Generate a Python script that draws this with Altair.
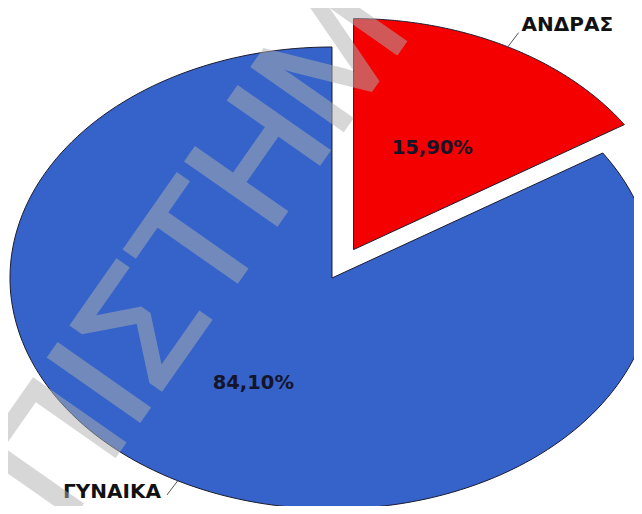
import altair as alt
import pandas as pd

# ---- data ----
categories = ["ΑΝΔΡΑΣ", "ΓΥΝΑΙΚΑ"]
percentages = [15.90, 84.10]
value_labels = ["15,90%", "84,10%"]
watermark = ["ΠΙΣΤΗΜ"]

# ---- styles / layout ----
slice_colors = ["#F40000", "#3563C9"]
EXPLODE = 0.14      # radial offset of the first slice (in radius units)
N = 180             # arc resolution per slice
W, H = 626, 498
x_dom = [-1.0062, 0.9379]
y_dom = [-0.987, 1.1688]

df = pd.DataFrame({
    "category": categories,
    "pct": percentages,
    "label": value_labels,
    "k": list(range(len(categories))),
})

xs = alt.Scale(domain=x_dom, nice=False, zero=False)
ys = alt.Scale(domain=y_dom, nice=False, zero=False)

base = (
    alt.Chart(df)
    .transform_joinaggregate(total="sum(pct)")
    .transform_window(cum="sum(pct)", sort=[alt.SortField("k")], frame=[None, 0])
    .transform_calculate(
        a1="2*PI*datum.cum/datum.total",
        a0="2*PI*(datum.cum-datum.pct)/datum.total",
    )
    .transform_calculate(
        mid="(datum.a0+datum.a1)/2",
        off=f"datum.k == 0 ? {EXPLODE} : 0",
    )
    .transform_calculate(
        cx="datum.off*sin(datum.mid)",
        cy="datum.off*cos(datum.mid)",
    )
)

slices = (
    base.transform_calculate(steps=f"sequence(-1, {N + 2})")
    .transform_flatten(["steps"], as_=["s"])
    .transform_calculate(
        t=f"clamp(datum.s, 0, {N})/{N}",
        r=f"(datum.s < 0 || datum.s > {N}) ? 0 : 1",
    )
    .transform_calculate(th="datum.a0 + (datum.a1-datum.a0)*datum.t")
    .transform_calculate(
        px="datum.cx + datum.r*sin(datum.th)",
        py="datum.cy + datum.r*cos(datum.th)",
    )
    .mark_line(filled=True, stroke="#1b1b30", strokeWidth=1, clip=True)
    .encode(
        x=alt.X("px:Q", scale=xs, axis=None),
        y=alt.Y("py:Q", scale=ys, axis=None),
        color=alt.Color("category:N",
                        scale=alt.Scale(domain=categories, range=slice_colors),
                        legend=None),
        detail="category:N",
        order=alt.Order("s:Q"),
    )
)

pct_text = (
    base.transform_calculate(
        lx="datum.cx + 0.51*sin(datum.mid)",
        ly="datum.cy + 0.51*cos(datum.mid)",
    )
    .mark_text(font="DejaVu Sans", fontWeight="bold", fontSize=19.5,
               color="#14142a", align="center", baseline="middle", dy=2)
    .encode(
        x=alt.X("lx:Q", scale=xs, axis=None),
        y=alt.Y("ly:Q", scale=ys, axis=None),
        text="label:N",
    )
)

leader_base = base.transform_calculate(
    x1="datum.cx + sin(datum.mid)",
    y1="datum.cy + cos(datum.mid)",
    x2="datum.cx + 1.07*sin(datum.mid)",
    y2="datum.cy + 1.07*cos(datum.mid)",
)

leaders = leader_base.mark_rule(color="#555555", strokeWidth=1).encode(
    x=alt.X("x1:Q", scale=xs, axis=None),
    y=alt.Y("y1:Q", scale=ys, axis=None),
    x2="x2:Q",
    y2="y2:Q",
)

right_labels = (
    leader_base.transform_filter("sin(datum.mid) >= 0")
    .mark_text(font="DejaVu Sans", fontWeight="bold", fontSize=20,
               color="#111111", align="left", baseline="alphabetic", dx=3, dy=-2)
    .encode(
        x=alt.X("x2:Q", scale=xs, axis=None),
        y=alt.Y("y2:Q", scale=ys, axis=None),
        text="category:N",
    )
)

left_labels = (
    leader_base.transform_filter("sin(datum.mid) < 0")
    .mark_text(font="DejaVu Sans", fontWeight="bold", fontSize=20,
               color="#111111", align="right", baseline="alphabetic", dx=-6, dy=3)
    .encode(
        x=alt.X("x2:Q", scale=xs, axis=None),
        y=alt.Y("y2:Q", scale=ys, axis=None),
        text="category:N",
    )
)

wm = (
    alt.Chart(pd.DataFrame({"t": watermark}))
    .mark_text(font="Liberation Sans", fontSize=160, color="#b0b0b0",
               stroke="#b0b0b0", strokeWidth=4,
               opacity=0.5, angle=305, align="left", baseline="alphabetic",
               clip=True)
    .encode(x=alt.value(57), y=alt.value(519), text="t:N")
)

chart = (
    alt.layer(slices, leaders, right_labels, left_labels, pct_text, wm)
    .properties(width=W, height=H, padding=0,
                autosize=alt.AutoSizeParams(type="none"))
    .configure_view(stroke=None)
)

chart.save("out.html", embed_options={"renderer": "svg", "actions": False})
